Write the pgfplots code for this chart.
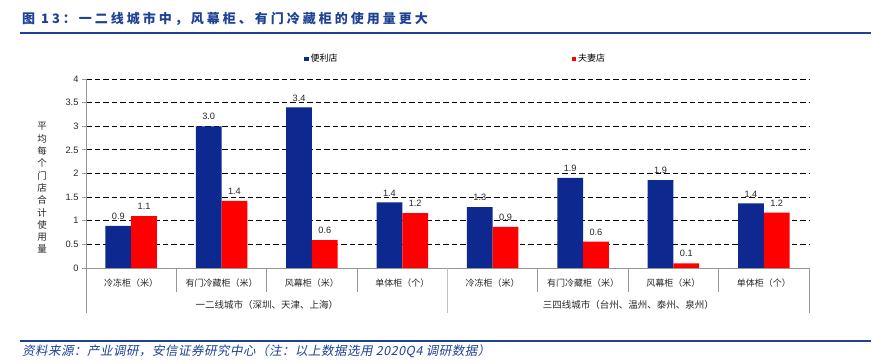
\documentclass[border=0pt]{standalone}
\usepackage{fontspec}
\usepackage{pgfplots}
\pgfplotsset{compat=1.18}
\setmainfont{Liberation Sans}
\newfontfamily\cjk{Noto Sans CJK SC}
\newfontfamily\cjkit{Noto Sans CJK SC}[FakeSlant=0.2]
\definecolor{barblue}{RGB}{13,40,142}
\definecolor{barred}{RGB}{255,0,0}
\definecolor{ttlblue}{RGB}{30,65,150}
\definecolor{axgray}{RGB}{150,150,150}

\begin{document}
\begin{tikzpicture}[x=1pt,y=1pt]
\useasboundingbox (0,0) rectangle (873,364);
\node[anchor=west, inner sep=0, text=ttlblue] at (22,345)
  {\cjk\bfseries\fontsize{13}{15}\selectfont\addfontfeatures{LetterSpace=23}图 13：一二线城市中，风幕柜、有门冷藏柜的使用量更大};
\draw[ttlblue, line width=1.8pt] (20,331) -- (871,331);
\draw[ttlblue, line width=1.2pt] (20,23) -- (871,23);
\node[anchor=west, inner sep=0, text=ttlblue] at (22,13)
  {\cjkit\fontsize{12.5}{14}\selectfont\addfontfeatures{LetterSpace=4}资料来源：产业调研，安信证券研究中心（注：以上数据选用 2020Q4 调研数据）};
\node[font=\cjk\fontsize{9.5}{12.3}\selectfont, align=center, text=black!85] at (42,176)
  {平\\均\\每\\个\\门\\店\\合\\计\\使\\用\\量};

\begin{axis}[
  at={(86pt,96pt)}, anchor=south west, scale only axis,
  width=723pt, height=189pt,
  xmin=-0.5, xmax=7.5, ymin=0, ymax=4,
  ybar=0pt, bar width=25.7pt,
  axis lines*=left,
  axis line style={draw=axgray, line width=0.8pt},
  ytick={0,0.5,1,1.5,2,2.5,3,3.5,4},
  ymajorgrids,
  grid style={black, dash pattern=on 5.5pt off 3pt, line width=0.8pt},
  tick align=outside,
  major tick length=4pt,
  y tick style={draw=axgray, line width=0.8pt},
  x tick style={draw=none},
  xtick={0,...,7},
  xticklabels={冷冻柜（米）,有门冷藏柜（米）,风幕柜（米）,单体柜（个）,冷冻柜（米）,有门冷藏柜（米）,风幕柜（米）,单体柜（个）},
  xticklabel style={font=\cjk\fontsize{9}{10}\selectfont, anchor=center, yshift=-11pt, text=black!85},
  yticklabel style={font=\fontsize{9.3}{10}\selectfont, text=black!85},
  /pgf/number format/assume math mode=true,
  nodes near coords,
  nodes near coords style={font=\fontsize{9.2}{10}\selectfont, text=black!85,
    /pgf/number format/fixed, /pgf/number format/fixed zerofill,
    /pgf/number format/precision=1, /pgf/number format/assume math mode=true,
    anchor=south, inner sep=2pt, yshift=4pt},
  legend columns=2,
  legend style={at={(axis description cs:0.3015,1.106)}, anchor=west,
    draw=none, fill=none, inner sep=0pt, outer sep=0pt,
    font=\cjk\fontsize{9}{10}\selectfont,
    /tikz/every even column/.append style={column sep=232pt}},
  clip=false,
]
\addplot[fill=barblue, draw=none,
  legend image code/.code={\fill[barblue] (0pt,-2.3pt) rectangle (4.6pt,2.3pt);}]
  coordinates {(0,0.89) (1,3.00) (2,3.40) (3,1.39) (4,1.29) (5,1.91) (6,1.86) (7,1.37)};
\addplot[fill=barred, draw=none,
  legend image code/.code={\fill[barred] (0pt,-2.3pt) rectangle (4.6pt,2.3pt);}]
  coordinates {(0,1.10) (1,1.42) (2,0.59) (3,1.16) (4,0.87) (5,0.56) (6,0.10) (7,1.17)};
\legend{便利店,夫妻店}

\draw[axgray, line width=0.8pt] (axis cs:0.5,0) -- ([yshift=-24pt]axis cs:0.5,0);
\draw[axgray, line width=0.8pt] (axis cs:1.5,0) -- ([yshift=-24pt]axis cs:1.5,0);
\draw[axgray, line width=0.8pt] (axis cs:2.5,0) -- ([yshift=-24pt]axis cs:2.5,0);
\draw[axgray, line width=0.8pt] (axis cs:4.5,0) -- ([yshift=-24pt]axis cs:4.5,0);
\draw[axgray, line width=0.8pt] (axis cs:5.5,0) -- ([yshift=-24pt]axis cs:5.5,0);
\draw[axgray, line width=0.8pt] (axis cs:6.5,0) -- ([yshift=-24pt]axis cs:6.5,0);
\draw[axgray, line width=0.8pt] (axis cs:-0.5,0) -- ([yshift=-45pt]axis cs:-0.5,0);
\draw[axgray!60, line width=0.8pt] (axis cs:3.5,0) -- ([yshift=-45pt]axis cs:3.5,0);
\draw[axgray, line width=0.8pt] (axis cs:7.5,0) -- ([yshift=-45pt]axis cs:7.5,0);
\node[font=\cjk\fontsize{9.5}{11}\selectfont, text=black!85] at ([yshift=-37pt]axis cs:1.5,0) {一二线城市（深圳、天津、上海）};
\node[font=\cjk\fontsize{9.5}{11}\selectfont, text=black!85] at ([yshift=-37pt]axis cs:5.5,0) {三四线城市（台州、温州、泰州、泉州）};
\end{axis}
\end{tikzpicture}
\end{document}
